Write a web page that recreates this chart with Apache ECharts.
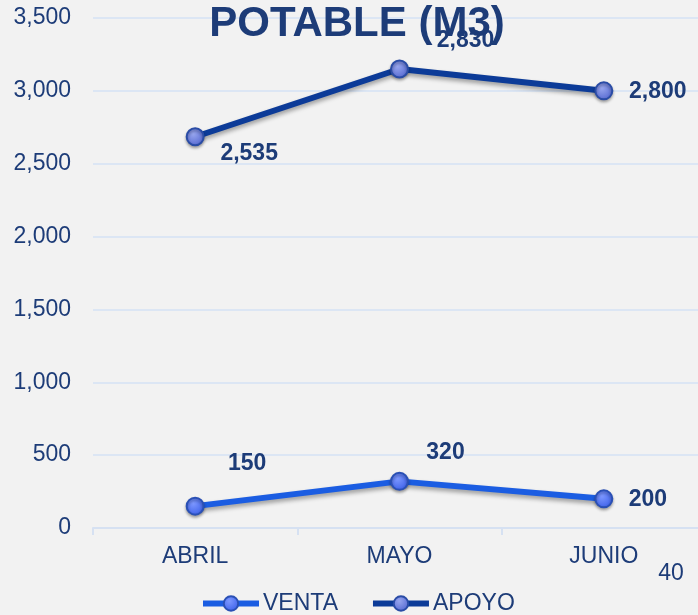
<!DOCTYPE html>
<html>
<head>
<meta charset="utf-8">
<script src="https://cdn.jsdelivr.net/npm/echarts@6.0.0/dist/echarts.min.js"></script>
<style>
  html, body { margin: 0; padding: 0; background: #f2f2f2; }
  #chart { width: 698px; height: 615px; }
</style>
</head>
<body>
<div id="chart"></div>
<script>
var months = ['ABRIL', 'MAYO', 'JUNIO'];
var venta = [150, 320, 200];
var apoyo = [2535, 2830, 2800];
var yTicks = [0, 500, 1000, 1500, 2000, 2500, 3000, 3500];

// label offsets (px) relative to each point
var ventaLabelOffsets = [[52, -42], [46, -29], [44, 1]];
var apoyoLabelOffsets = [[54, 17], [66, -28], [54, 1]];

var navy = '#1d3c78';
var font = '"Liberation Sans", Arial, sans-serif';

function fmt(v) {
    return String(v).replace(/\B(?=(\d{3})+(?!\d))/g, ',');
}

function withLabels(values, offsets) {
    return values.map(function (v, i) {
        return { value: v, label: { offset: offsets[i] } };
    });
}

function marker(light, dark) {
    return {
        type: 'radial', x: 0.4, y: 0.35, r: 0.7,
        colorStops: [{ offset: 0, color: light }, { offset: 1, color: dark }]
    };
}

function lineSeries(name, values, offsets, lineColor, fillLight, fillDark, border) {
    return {
        name: name,
        type: 'line',
        stack: 'total',
        z: 3,
        data: withLabels(values, offsets),
        symbol: 'circle',
        symbolSize: 17,
        lineStyle: {
            color: lineColor, width: 6,
            shadowColor: 'rgba(0,0,0,0.35)', shadowBlur: 4, shadowOffsetY: 3
        },
        itemStyle: {
            color: marker(fillLight, fillDark),
            borderColor: border, borderWidth: 2,
            shadowColor: 'rgba(0,0,0,0.3)', shadowBlur: 3, shadowOffsetY: 2
        },
        label: {
            show: true,
            position: 'inside',
            color: navy,
            fontFamily: font,
            fontWeight: 'bold',
            fontSize: 23,
            formatter: function (p) { return fmt(p.value); }
        },
        emphasis: { disabled: true },
        animation: false
    };
}

var chart = echarts.init(document.getElementById('chart'));
chart.setOption({
    backgroundColor: '#f2f2f2',
    textStyle: { fontFamily: font },
    grid: { left: 93, right: -8, top: 18, bottom: 87, outerBoundsMode: 'none' },
    xAxis: {
        type: 'category',
        data: months,
        boundaryGap: true,
        axisLine: { lineStyle: { color: '#d6e1f2', width: 2 } },
        axisTick: { show: true, length: 7, lineStyle: { color: '#d6e1f2', width: 2 } },
        axisLabel: { color: navy, fontSize: 23, fontFamily: font, margin: 17 }
    },
    yAxis: {
        type: 'value',
        min: yTicks[0],
        max: yTicks[yTicks.length - 1],
        interval: 500,
        axisLine: { show: false },
        axisTick: { show: false },
        splitLine: { lineStyle: { color: '#dce6f4', width: 2 } },
        axisLabel: {
            color: navy, fontSize: 23, fontFamily: font, margin: 22,
            formatter: function (v) { return fmt(v); }
        }
    },
    legend: {
        data: ['VENTA', 'APOYO'],
        left: 200,
        top: 592,
        padding: 0,
        itemWidth: 56,
        itemHeight: 18,
        itemGap: 32,
        lineStyle: { width: 6 },
        textStyle: { color: navy, fontSize: 23, fontFamily: font, padding: [0, 0, 0, -1] }
    },
    graphic: [
        {
            type: 'text', x: 357, y: 24, z: 1,
            style: {
                text: 'POTABLE (M3)', fill: navy, font: 'bold 42px ' + font,
                textAlign: 'center', textVerticalAlign: 'middle'
            }
        },
        {
            type: 'text', x: 671, y: 574,
            style: {
                text: '40', fill: navy, font: '23px ' + font,
                textAlign: 'center', textVerticalAlign: 'middle'
            }
        }
    ],
    series: [
        lineSeries('VENTA', venta, ventaLabelOffsets, '#1b5de2', '#7d98ff', '#3a5ee8', '#2a50b5'),
        lineSeries('APOYO', apoyo, apoyoLabelOffsets, '#0c3b98', '#98a6ee', '#5266d0', '#2a4ca6')
    ]
});
</script>
</body>
</html>
